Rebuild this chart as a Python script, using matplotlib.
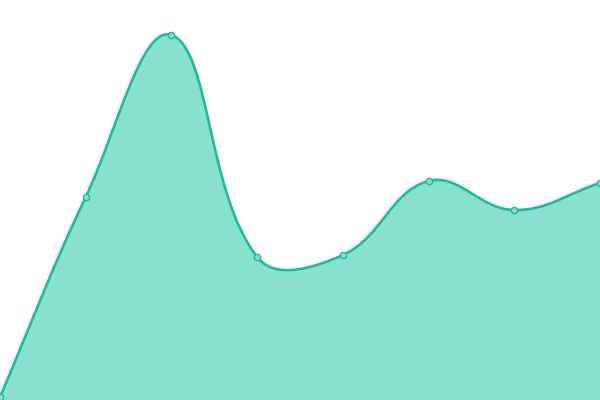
import numpy as np
import matplotlib
matplotlib.use("Agg")
import matplotlib.pyplot as plt
from matplotlib.path import Path
from matplotlib.patches import PathPatch

# valores
labels = ["A", "B", "C", "D", "E", "F", "G", "H"]
values = [3, 203, 365, 143, 145, 219, 190, 217]

LINE = "#1abc9c"
FILL = "#88e0ce"
TENSION = 0.4
W, H = 600, 400
YMAX = 400


def bezier_points(xs, ys):
    # pontos de controle no estilo Chart.js (splineCurve), em pixels
    px = np.array(xs, float) * W / (len(xs) - 1)
    py = np.array(ys, float) * H / YMAX
    n = len(px)
    cps = []
    for i in range(n):
        p0 = (px[max(i - 1, 0)], py[max(i - 1, 0)])
        p1 = (px[i], py[i])
        p2 = (px[min(i + 1, n - 1)], py[min(i + 1, n - 1)])
        d01 = np.hypot(p1[0] - p0[0], p1[1] - p0[1])
        d12 = np.hypot(p2[0] - p1[0], p2[1] - p1[1])
        s01 = d01 / (d01 + d12) if d01 + d12 else 0
        s12 = d12 / (d01 + d12) if d01 + d12 else 0
        fa, fb = TENSION * s01, TENSION * s12
        prev_cp = (p1[0] - fa * (p2[0] - p0[0]), p1[1] - fa * (p2[1] - p0[1]))
        next_cp = (p1[0] + fb * (p2[0] - p0[0]), p1[1] + fb * (p2[1] - p0[1]))
        cps.append((prev_cp, next_cp))
    verts = [(px[0], py[0])]
    codes = [Path.MOVETO]
    for i in range(n - 1):
        verts += [cps[i][1], cps[i + 1][0], (px[i + 1], py[i + 1])]
        codes += [Path.CURVE4] * 3
    # volta para as unidades dos dados
    verts = [(vx * (len(xs) - 1) / W, vy * YMAX / H) for vx, vy in verts]
    return verts, codes


x = np.arange(len(labels))
verts, codes = bezier_points(x, values)

fig = plt.figure(figsize=(6, 4), dpi=100)
ax = fig.add_axes([0, 0, 1, 1])

fill_verts = verts + [(x[-1], 0), (x[0], 0), verts[0]]
fill_codes = codes + [Path.LINETO, Path.LINETO, Path.CLOSEPOLY]
ax.add_patch(PathPatch(Path(fill_verts, fill_codes), facecolor=FILL, edgecolor="none"))
ax.add_patch(PathPatch(Path(verts, codes), facecolor="none", edgecolor=LINE, lw=1.9))

ax.plot(x, values, "o", ms=4.5, mfc=FILL, mec=LINE, mew=1.0, clip_on=True)

ax.set_xlim(0, len(labels) - 1)
ax.set_ylim(0, YMAX)
ax.axis("off")

plt.savefig("out.png", dpi=100)
